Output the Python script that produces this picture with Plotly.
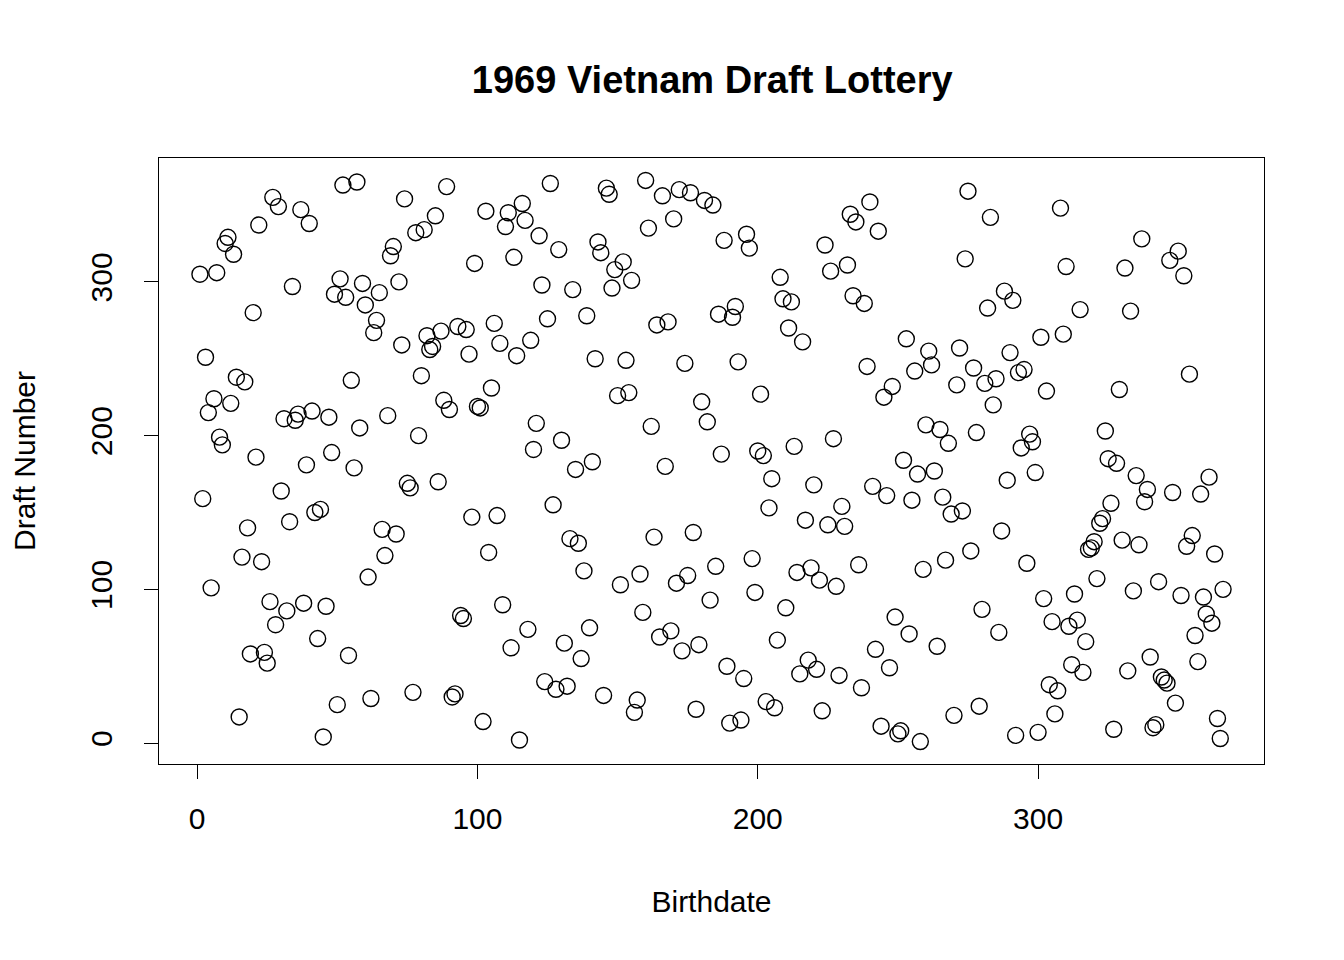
import plotly.graph_objects as go

jan = [305, 159, 251, 215, 101, 224, 306, 199, 194, 325, 329, 221, 318, 238, 17, 121, 235, 140, 58, 280, 186, 337, 118, 59, 52, 92, 355, 77, 349, 164, 211]
feb = [86, 144, 297, 210, 214, 347, 91, 181, 338, 216, 150, 68, 152, 4, 89, 212, 189, 292, 25, 302, 363, 290, 57, 236, 179, 365, 205, 299, 285]
mar = [108, 29, 267, 275, 293, 139, 122, 213, 317, 323, 136, 300, 259, 354, 169, 166, 33, 332, 200, 239, 334, 265, 256, 258, 343, 170, 268, 223, 362, 217, 30]
apr = [32, 271, 83, 81, 269, 253, 147, 312, 219, 218, 14, 346, 124, 231, 273, 148, 260, 90, 336, 345, 62, 316, 252, 2, 351, 340, 74, 262, 191, 208]
may = [330, 298, 40, 276, 364, 155, 35, 321, 197, 65, 37, 133, 295, 178, 130, 55, 112, 278, 75, 183, 250, 326, 319, 31, 361, 357, 296, 308, 226, 103, 313]
jun = [249, 228, 301, 20, 28, 110, 85, 366, 335, 206, 134, 272, 69, 356, 180, 274, 73, 341, 104, 360, 60, 247, 109, 358, 137, 22, 64, 222, 353, 209]
jul = [93, 350, 115, 279, 188, 327, 50, 13, 277, 284, 248, 15, 42, 331, 322, 120, 98, 190, 227, 187, 27, 153, 172, 23, 67, 303, 289, 88, 270, 287, 193]
aug = [111, 45, 261, 145, 54, 114, 168, 48, 106, 21, 324, 142, 307, 198, 102, 44, 154, 141, 311, 344, 291, 339, 116, 36, 286, 245, 352, 167, 61, 333, 11]
sep = [225, 161, 49, 232, 82, 6, 8, 184, 263, 71, 158, 242, 175, 1, 113, 207, 255, 246, 177, 63, 204, 160, 119, 195, 149, 18, 233, 257, 151, 315]
oct = [359, 125, 244, 202, 24, 87, 234, 283, 342, 220, 237, 72, 138, 294, 171, 254, 288, 5, 241, 192, 243, 117, 201, 196, 176, 7, 264, 94, 229, 38, 79]
nov = [19, 34, 348, 266, 310, 76, 51, 97, 80, 282, 46, 66, 126, 127, 131, 107, 143, 146, 203, 185, 156, 9, 182, 230, 132, 309, 47, 281, 99, 174]
dec = [129, 328, 157, 165, 56, 10, 12, 105, 43, 41, 39, 314, 163, 26, 320, 96, 304, 128, 240, 135, 70, 53, 162, 95, 84, 173, 78, 123, 16, 3, 100]

draft_number = jan + feb + mar + apr + may + jun + jul + aug + sep + oct + nov + dec
birthdate = list(range(1, len(draft_number) + 1))

font = "Liberation Sans, Arial, Helvetica, sans-serif"

fig = go.Figure(go.Scatter(
    x=birthdate, y=draft_number, mode="markers",
    marker=dict(symbol="circle-open", size=16, color="black", line=dict(width=1.4)),
))

axis = dict(showgrid=False, zeroline=False, showline=True, mirror=True, linecolor="black",
            linewidth=1.3, ticks="outside", ticklen=14, tickcolor="black", tickwidth=1.3,
            tickfont=dict(size=30, color="black"), range=[-13.6, 380.6], automargin=False)

fig.update_layout(
    width=1344, height=960,
    paper_bgcolor="white", plot_bgcolor="white",
    font=dict(family=font, color="black"),
    margin=dict(l=151, r=88, t=150, b=204),
    showlegend=False,
    title=dict(text="<b>1969 Vietnam Draft Lottery</b>", x=0.524, xanchor="center",
               y=0.925, yanchor="middle", font=dict(size=38)),
    xaxis=dict(axis, tickvals=[0, 100, 200, 300], ticklabelstandoff=14,
               title=dict(text="Birthdate", font=dict(size=30), standoff=56)),
    yaxis=dict(axis, tickvals=[0, 100, 200, 300], tickangle=-90, ticklabelstandoff=20,
               title=dict(text="Draft Number", font=dict(size=30), standoff=48)),
)

fig.write_html("out.html")
